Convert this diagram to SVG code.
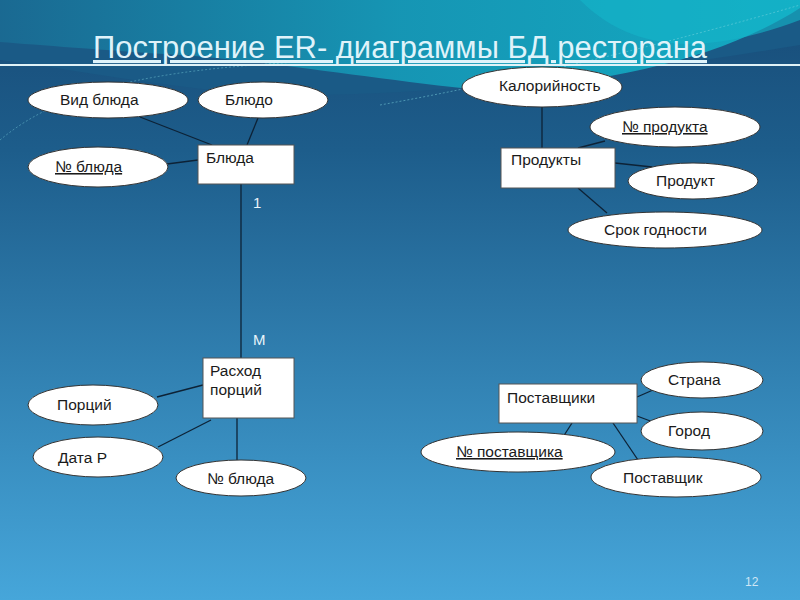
<svg xmlns="http://www.w3.org/2000/svg" width="800" height="600" viewBox="0 0 800 600">
<defs>
<linearGradient id="bg" x1="0" y1="0" x2="0" y2="1">
<stop offset="0" stop-color="#184c78"/>
<stop offset="0.25" stop-color="#1d5d8b"/>
<stop offset="1" stop-color="#46a6da"/>
</linearGradient>
<linearGradient id="teal" x1="0" y1="0" x2="1" y2="0">
<stop offset="0" stop-color="#1a6c94"/>
<stop offset="0.5" stop-color="#15a0bc"/>
<stop offset="1" stop-color="#12b8cc"/>
</linearGradient>
<style>
.ent{fill:#fff;stroke:#555;stroke-width:1}
.att{fill:#fff;stroke:#333;stroke-width:1}
.lbl{font-family:"Liberation Sans",Arial,sans-serif;font-size:15.5px;fill:#1a1a1a}
.key{text-decoration:underline}
.con line{stroke:#0d2236;stroke-width:1.3}
.card{font-family:"Liberation Sans",Arial,sans-serif;font-size:15px;fill:#e8f4fa}
</style>
</defs>
<rect width="800" height="600" fill="url(#bg)"/>
<path d="M0 0 H800 V45 C650 70 450 95 300 95 C200 95 80 70 0 60 Z" fill="#1a5a86"/>
<path d="M0 0 H800 V8 C720 60 600 85 480 90 C380 80 260 60 180 55 C100 50 40 45 0 42 Z" fill="url(#teal)" opacity="0.85"/>
<path d="M520 0 H800 V20 C720 50 640 60 580 0 Z" fill="#14b6c9" opacity="0.6"/>
<path d="M380 105 C520 80 680 40 800 5" fill="none" stroke="#7fd6e0" stroke-width="0.7" stroke-dasharray="2 2" opacity="0.7"/>
<path d="M0 140 C60 90 150 70 300 62" fill="none" stroke="#7fd6e0" stroke-width="0.7" stroke-dasharray="2 2" opacity="0.6"/>
<line x1="0" y1="65" x2="800" y2="65" stroke="#dff2f7" stroke-width="2"/>
<text x="400" y="58" text-anchor="middle" font-family="'Liberation Sans',Arial,sans-serif" font-size="31" fill="#dff3fa" text-decoration="underline" textLength="614" lengthAdjust="spacingAndGlyphs">Построение ER- диаграммы БД ресторана</text>

<g id="connectors" class="con">
<line x1="140" y1="117" x2="212" y2="145"/>
<line x1="258" y1="118" x2="247" y2="145"/>
<line x1="167" y1="164" x2="198" y2="160"/>
<line x1="241" y1="184" x2="241" y2="358"/>
<line x1="157" y1="397" x2="203" y2="385"/>
<line x1="158" y1="447" x2="211" y2="420"/>
<line x1="237" y1="418" x2="237" y2="460"/>
<line x1="542" y1="107" x2="542" y2="148"/>
<line x1="578" y1="148" x2="605" y2="141"/>
<line x1="615" y1="163" x2="652" y2="167"/>
<line x1="578" y1="188" x2="607" y2="213"/>
<line x1="637" y1="397" x2="653" y2="390"/>
<line x1="637" y1="416" x2="653" y2="422"/>
<line x1="572" y1="423" x2="563" y2="437"/>
<line x1="613" y1="423" x2="638" y2="460"/>
</g>
<text class="card" x="253" y="208">1</text>
<text class="card" x="253" y="345">M</text>

<g id="vid-blyuda"><ellipse class="att" cx="108" cy="100" rx="80" ry="18"/><text class="lbl" x="60" y="105">Вид блюда</text></g>
<g id="blyudo"><ellipse class="att" cx="263" cy="100" rx="65" ry="18"/><text class="lbl" x="225" y="105">Блюдо</text></g>
<g id="no-blyuda-1"><ellipse class="att" cx="98" cy="167" rx="70" ry="20"/><text class="lbl key" x="55" y="172">№ блюда</text></g>
<g id="blyuda"><rect class="ent" x="198" y="145" width="96" height="39"/><text class="lbl" x="206" y="163">Блюда</text></g>

<g id="rashod"><rect class="ent" x="203" y="358" width="91" height="60"/><text class="lbl" x="210" y="376">Расход</text><text class="lbl" x="210" y="395">порций</text></g>
<g id="porciy"><ellipse class="att" cx="93" cy="405" rx="65" ry="20"/><text class="lbl" x="57" y="410">Порций</text></g>
<g id="data-r"><ellipse class="att" cx="98" cy="457" rx="65" ry="20"/><text class="lbl" x="58" y="463">Дата Р</text></g>
<g id="no-blyuda-2"><ellipse class="att" cx="241" cy="478" rx="65" ry="18"/><text class="lbl" x="207" y="484">№ блюда</text></g>

<g id="kaloriynost"><ellipse class="att" cx="542" cy="87" rx="80" ry="20"/><text class="lbl" x="499" y="91">Калорийность</text></g>
<g id="produkty"><rect class="ent" x="501" y="148" width="114" height="40"/><text class="lbl" x="511" y="165">Продукты</text></g>
<g id="no-produkta"><ellipse class="att" cx="675" cy="127" rx="85" ry="20"/><text class="lbl key" x="622" y="132">№ продукта</text></g>
<g id="produkt"><ellipse class="att" cx="693" cy="181" rx="65" ry="18"/><text class="lbl" x="656" y="186">Продукт</text></g>
<g id="srok"><ellipse class="att" cx="665" cy="230" rx="97" ry="18"/><text class="lbl" x="604" y="235">Срок годности</text></g>

<g id="postavshiki"><rect class="ent" x="499" y="384" width="138" height="39"/><text class="lbl" x="507" y="403">Поставщики</text></g>
<g id="strana"><ellipse class="att" cx="702" cy="380" rx="61" ry="18"/><text class="lbl" x="668" y="385">Страна</text></g>
<g id="gorod"><ellipse class="att" cx="702" cy="431" rx="61" ry="19"/><text class="lbl" x="668" y="436">Город</text></g>
<g id="no-postavshika"><ellipse class="att" cx="518" cy="452" rx="97" ry="20"/><text class="lbl key" x="456" y="457">№ поставщика</text></g>
<g id="postavshik"><ellipse class="att" cx="676" cy="477" rx="85" ry="20"/><text class="lbl" x="623" y="483">Поставщик</text></g>

<text x="745" y="586" font-family="'Liberation Sans',Arial,sans-serif" font-size="12" fill="#cfe6f5">12</text>
</svg>
